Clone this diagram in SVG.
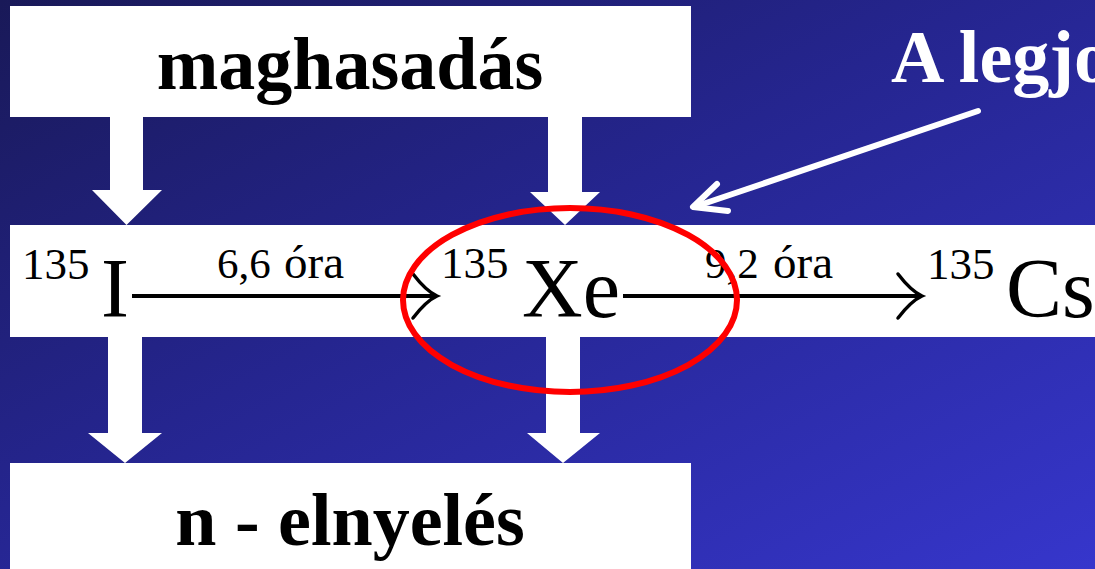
<svg xmlns="http://www.w3.org/2000/svg" width="1095" height="569" viewBox="0 0 1095 569">
  <defs>
    <linearGradient id="bg" x1="0" y1="0" x2="1" y2="1">
      <stop offset="0" stop-color="#191958"/>
      <stop offset="0.45" stop-color="#25258f"/>
      <stop offset="1" stop-color="#3636cc"/>
    </linearGradient>
  </defs>
  <style>
    .box { fill: #ffffff; }
    .title { font-family: "Liberation Serif", "Times New Roman", serif; font-weight: bold; font-size: 74px; fill: #000000; }
    .sym { font-family: "Liberation Serif", "Times New Roman", serif; font-size: 84px; fill: #000000; }
    .sup { font-family: "Liberation Serif", "Times New Roman", serif; font-size: 45px; fill: #000000; }
    .num { font-family: "Liberation Serif", "Times New Roman", serif; font-size: 43px; fill: #000000; }
    .lbl { font-family: "Liberation Serif", "Times New Roman", serif; font-size: 47px; fill: #000000; }
    .rxn { stroke: #000000; stroke-width: 4; fill: none; }
    .head { stroke: #000000; stroke-width: 3.5; fill: none; stroke-linecap: round; }
    .wa { fill: #ffffff; }
    .ptr { stroke: #ffffff; stroke-width: 6; fill: none; stroke-linecap: round; stroke-linejoin: round; }
    .note { font-family: "Liberation Serif", "Times New Roman", serif; font-weight: bold; font-size: 74px; fill: #ffffff; }
  </style>
  <rect x="0" y="0" width="1095" height="569" fill="url(#bg)"/>

  <g id="fission">
    <rect class="box" x="10" y="6" width="681" height="111"/>
    <text class="title" x="350" y="89" text-anchor="middle">maghasadás</text>
  </g>

  <g id="absorption">
    <rect class="box" x="10" y="463" width="681" height="106"/>
    <text class="title" x="350" y="545" text-anchor="middle">n - elnyelés</text>
  </g>

  <g id="chain">
    <rect class="box" x="10" y="225" width="1085" height="112"/>
  </g>

  <g id="connectors">
    <polygon class="wa" points="110,117 143,117 143,190 162,190 126.5,225 92,190 110,190"/>
    <polygon class="wa" points="548,117 582,117 582,192 600,192 565,225 530,192 548,192"/>
    <polygon class="wa" points="108,337 142,337 142,433 162,433 125,463 88,433 108,433"/>
    <polygon class="wa" points="546,337 580,337 580,433 600,433 563,463 527,433 546,433"/>
    <line class="rxn" x1="132" y1="296" x2="436" y2="296"/>
    <path class="head" d="M413,274 Q426,291 437,296 Q426,301 413,318"/>
    <line class="rxn" x1="623" y1="296" x2="921" y2="296"/>
    <path class="head" d="M898,274 Q911,291 922,296 Q911,301 898,318"/>
    <line class="ptr" x1="978" y1="111" x2="694" y2="207"/>
    <polyline class="ptr" points="717,184 693,207 728,211"/>
  </g>

  <g id="iodine">
    <text class="sup" x="22" y="279">135</text>
    <text class="sym" x="101" y="317">I</text>
  </g>
  <g id="label1">
    <text class="lbl" x="217" y="278"><tspan class="num">6,6</tspan><tspan x="284">óra</tspan></text>
  </g>
  <g id="xenon">
    <text class="sup" x="441" y="278">135</text>
    <text class="sym" x="522" y="317">Xe</text>
  </g>
  <g id="label2">
    <text class="lbl" x="705" y="278"><tspan class="num">9,2</tspan><tspan x="773">óra</tspan></text>
  </g>
  <g id="cesium">
    <text class="sup" x="927" y="279">135</text>
    <text class="sym" x="1006" y="317">Cs</text>
  </g>

  <g id="note">
    <text class="note" x="891" y="82">A legjo</text>
  </g>

  <g id="highlight">
    <ellipse cx="570" cy="300" rx="167" ry="92" fill="none" stroke="#ff0000" stroke-width="6"/>
  </g>
</svg>
